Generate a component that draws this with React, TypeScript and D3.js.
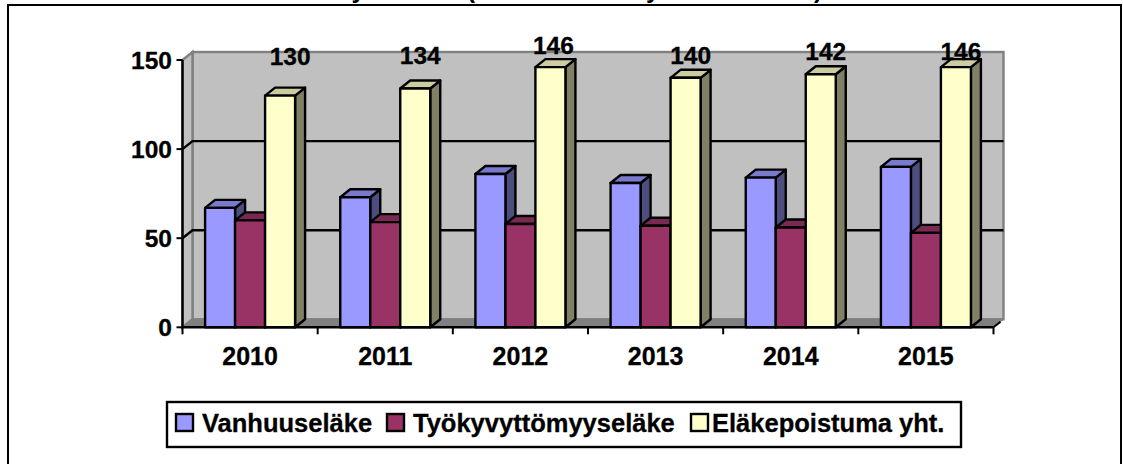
import * as d3 from "d3";

const years = ["2010", "2011", "2012", "2013", "2014", "2015"];
const vanhuus = [67, 73, 86, 81, 84, 90];
const tyokyvyttomyys = [60, 59, 58, 57, 56, 53];
const poistuma = [130, 134, 146, 140, 142, 146];
const seriesNames = ["Vanhuuseläke", "Työkyvyttömyyseläke", "Eläkepoistuma yht."];
const seriesFill = ["#9999ff", "#993366", "#ffffcc"];
const seriesTop = ["#7a7acc", "#7a2952", "#ccccA3"];
const seriesSide = ["#4d4d80", "#4d1a33", "#808066"];
const yTicks = [0, 50, 100, 150];

// the data labels were placed by hand in the original chart
const labelLift = [31, 25, 13, 14, 14, 7];
const labelShift = [0, -5, -7, -5, -5, -5];
const legendSwatchX = [176, 387, 691];
const legendTextX = [202, 413, 712];

const FONT = "Liberation Sans, Arial, sans-serif";
const allSeries = [vanhuus, tyokyvyttomyys, poistuma];

const x = d3.scaleBand<string>().domain(years).range([182.5, 993.5]);
const y = d3.scaleLinear().domain([0, 150]).range([327.3, 60]);
const dx = 10;
const dy = 8;
const barW = 30;

export default function App() {
  const axisL = 182.5;
  const axisR = 993.5;
  const wallL = axisL + dx;
  const wallR = axisR + dx;
  const wallT = y(150) - dy;
  const wallB = y(0) - dy;
  const heavy = { stroke: "#000", strokeWidth: 0.3 };

  return (
    <svg
      width={1123}
      height={464}
      style={{ position: "absolute", left: 0, top: 0, background: "#fff" }}
      fontFamily={FONT}
      fontWeight="bold"
    >
      {/* outer frame */}
      <rect x={8} y={5} width={1113} height={470} fill="#fff" stroke="#000" strokeWidth={2} />
      {/* title is cut off at the top edge of the picture, only its descenders show */}
      <text x={243} y={-2} fontSize={25} fill="#000">
        Eläkkeet yhteensä (eläkkeelle siirtyneet henkilöt)
      </text>

      {/* back wall, side wall, floor */}
      <rect x={wallL} y={wallT} width={wallR - wallL} height={wallB - wallT} fill="#c0c0c0" stroke="#808080" strokeWidth={2.4} />
      <path d={`M${axisL},${y(150)}L${wallL},${wallT}V${wallB}L${axisL},${y(0)}Z`} fill="#c0c0c0" stroke="#808080" strokeWidth={2.4} />
      <path d={`M${axisL},${y(0)}L${wallL},${wallB}H${wallR}L${axisR},${y(0)}Z`} fill="#808080" stroke="#808080" />

      {/* gridlines */}
      {yTicks.slice(1, 3).map((t) => (
        <path key={t} d={`M${axisL},${y(t)}L${wallL},${y(t) - dy}H${wallR}`} fill="none" stroke="#000" strokeWidth={2.4} />
      ))}

      {/* bars */}
      {years.map((yr, i) => {
        const left = (x(yr) as number) + (x.bandwidth() - 3 * barW) / 2;
        return allSeries.map((values, s) => {
          const bx = left + s * barW;
          const top = y(values[i]);
          const base = y(0);
          return (
            <g key={yr + s} stroke="#000" strokeWidth={2.4} strokeLinejoin="round">
              <path d={`M${bx + barW},${top}L${bx + barW + dx},${top - dy}V${base - dy}L${bx + barW},${base}Z`} fill={seriesSide[s]} />
              <path d={`M${bx},${top}L${bx + dx},${top - dy}H${bx + barW + dx}L${bx + barW},${top}Z`} fill={seriesTop[s]} />
              <rect x={bx} y={top} width={barW} height={base - top} fill={seriesFill[s]} />
            </g>
          );
        });
      })}

      {/* data labels */}
      {years.map((yr, i) => {
        const left = (x(yr) as number) + (x.bandwidth() - 3 * barW) / 2;
        return (
          <text key={yr} x={left + 2.5 * barW + 10 + labelShift[i]} y={y(poistuma[i]) - labelLift[i]} fontSize={24.5} textAnchor="middle" fill="#000" {...heavy}>
            {poistuma[i]}
          </text>
        );
      })}

      {/* axes */}
      <path d={`M${axisL},${y(150)}V${y(0)}H${axisR}`} fill="none" stroke="#000" strokeWidth={2.4} />
      {yTicks.map((t) => (
        <g key={t}>
          <line x1={axisL - 6} x2={axisL} y1={y(t)} y2={y(t)} stroke="#000" strokeWidth={2} />
          <text x={172} y={y(t) + 8.5} fontSize={24.5} textAnchor="end" fill="#000" {...heavy}>
            {t}
          </text>
        </g>
      ))}
      {[...years.map((yr) => x(yr) as number), axisR].map((tx) => (
        <line key={tx} x1={tx} x2={tx} y1={y(0)} y2={y(0) + 7} stroke="#000" strokeWidth={2} />
      ))}
      <path d={`M${axisR},${y(0)}L${axisR + dx * 0.7},${y(0) - dy * 0.7}`} stroke="#000" strokeWidth={2} />
      {years.map((yr) => (
        <text key={yr} x={(x(yr) as number) + x.bandwidth() / 2} y={365} fontSize={25} textAnchor="middle" fill="#000" {...heavy}>
          {yr}
        </text>
      ))}

      {/* legend */}
      <rect x={167} y={402} width={794} height={45} fill="#fff" stroke="#000" strokeWidth={2.4} />
      {seriesNames.map((name, s) => (
        <g key={name}>
          <rect x={legendSwatchX[s]} y={414} width={17} height={17} fill={seriesFill[s]} stroke="#000" strokeWidth={2.4} />
          <text x={legendTextX[s]} y={432} fontSize={25.5} fill="#000" {...heavy}>
            {name}
          </text>
        </g>
      ))}
    </svg>
  );
}
